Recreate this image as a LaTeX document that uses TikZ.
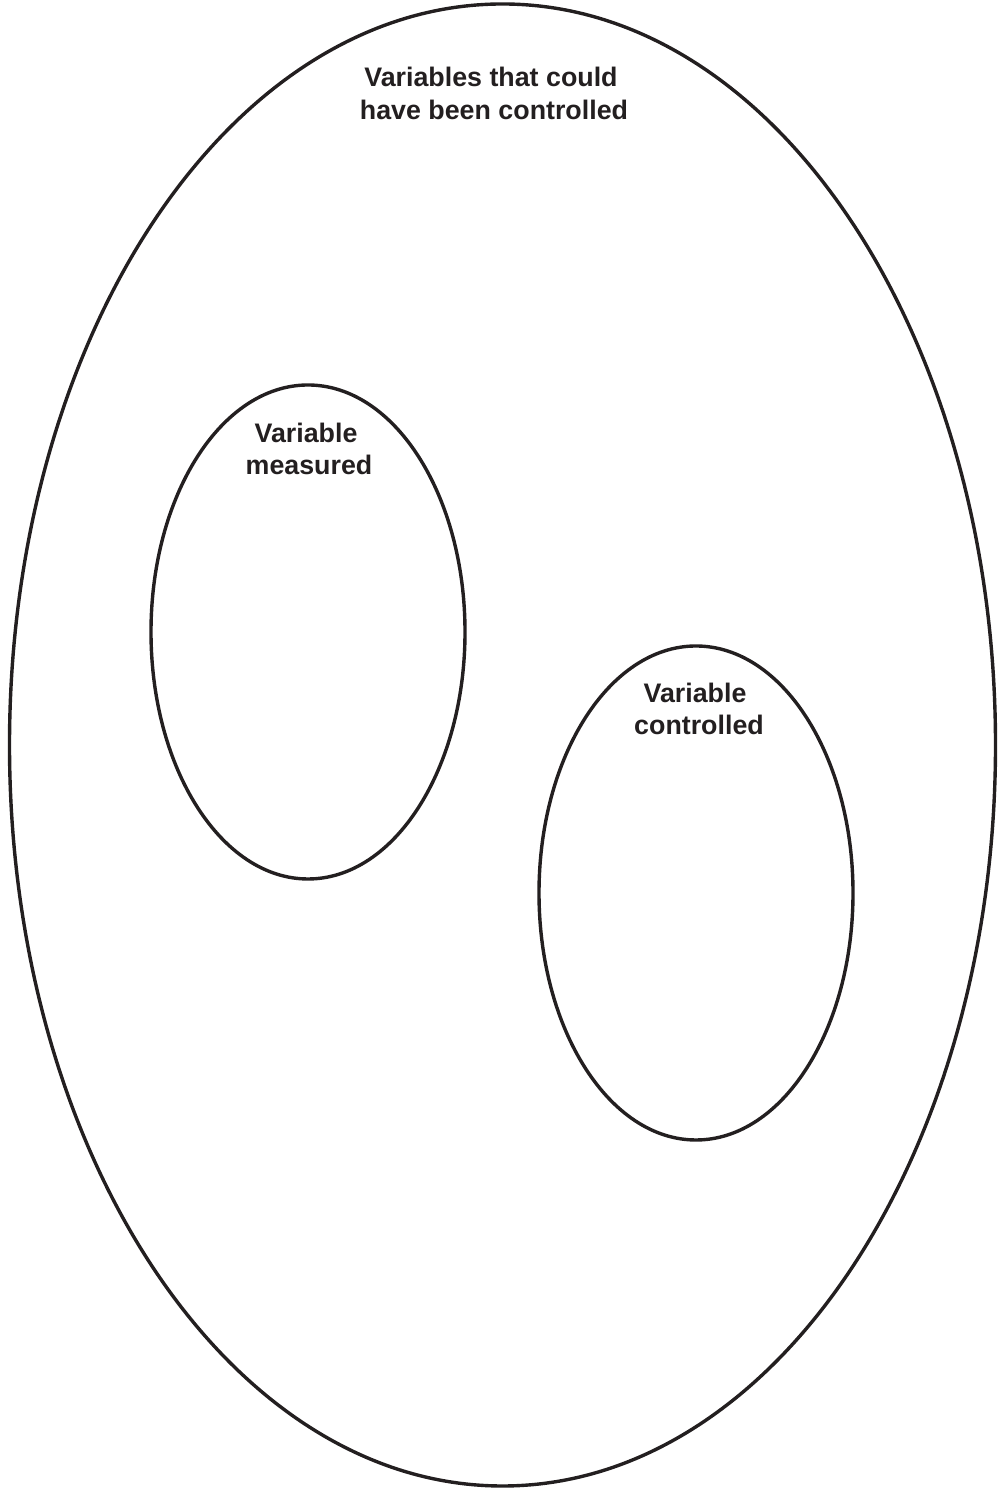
\documentclass[tikz,border=0pt]{standalone}
\usepackage{fontspec}
\setmainfont{Liberation Sans}
\usetikzlibrary{shapes.geometric}
\definecolor{ink}{HTML}{231F20}
\tikzset{
  venn/.style={draw=ink, line width=3.4pt, ellipse, inner sep=0pt},
  lbl/.style={text=ink, align=center, font=\bfseries\fontsize{26.8}{33}\selectfont, inner sep=0pt, anchor=base}
}
\begin{document}
\begin{tikzpicture}[x=1pt,y=1pt]
\useasboundingbox (0,0) rectangle (998,1490);
\node[venn, minimum width=986pt, minimum height=1482pt] (outer) at (502.5,745) {};
\node[venn, minimum width=314pt, minimum height=494pt] (meas) at (308,858) {};
\node[venn, minimum width=314pt, minimum height=494pt] (ctrl) at (696,597) {};
\node[lbl] (t1a) at (491,1403) {Variables that could};
\node[lbl] (t1b) at (494,1370) {have been controlled};
\node[lbl] (t2a) at (306,1047) {Variable};
\node[lbl] (t2b) at (309,1015) {measured};
\node[lbl] (t3a) at (695,787) {Variable};
\node[lbl] (t3b) at (699,755) {controlled};
\end{tikzpicture}
\end{document}
